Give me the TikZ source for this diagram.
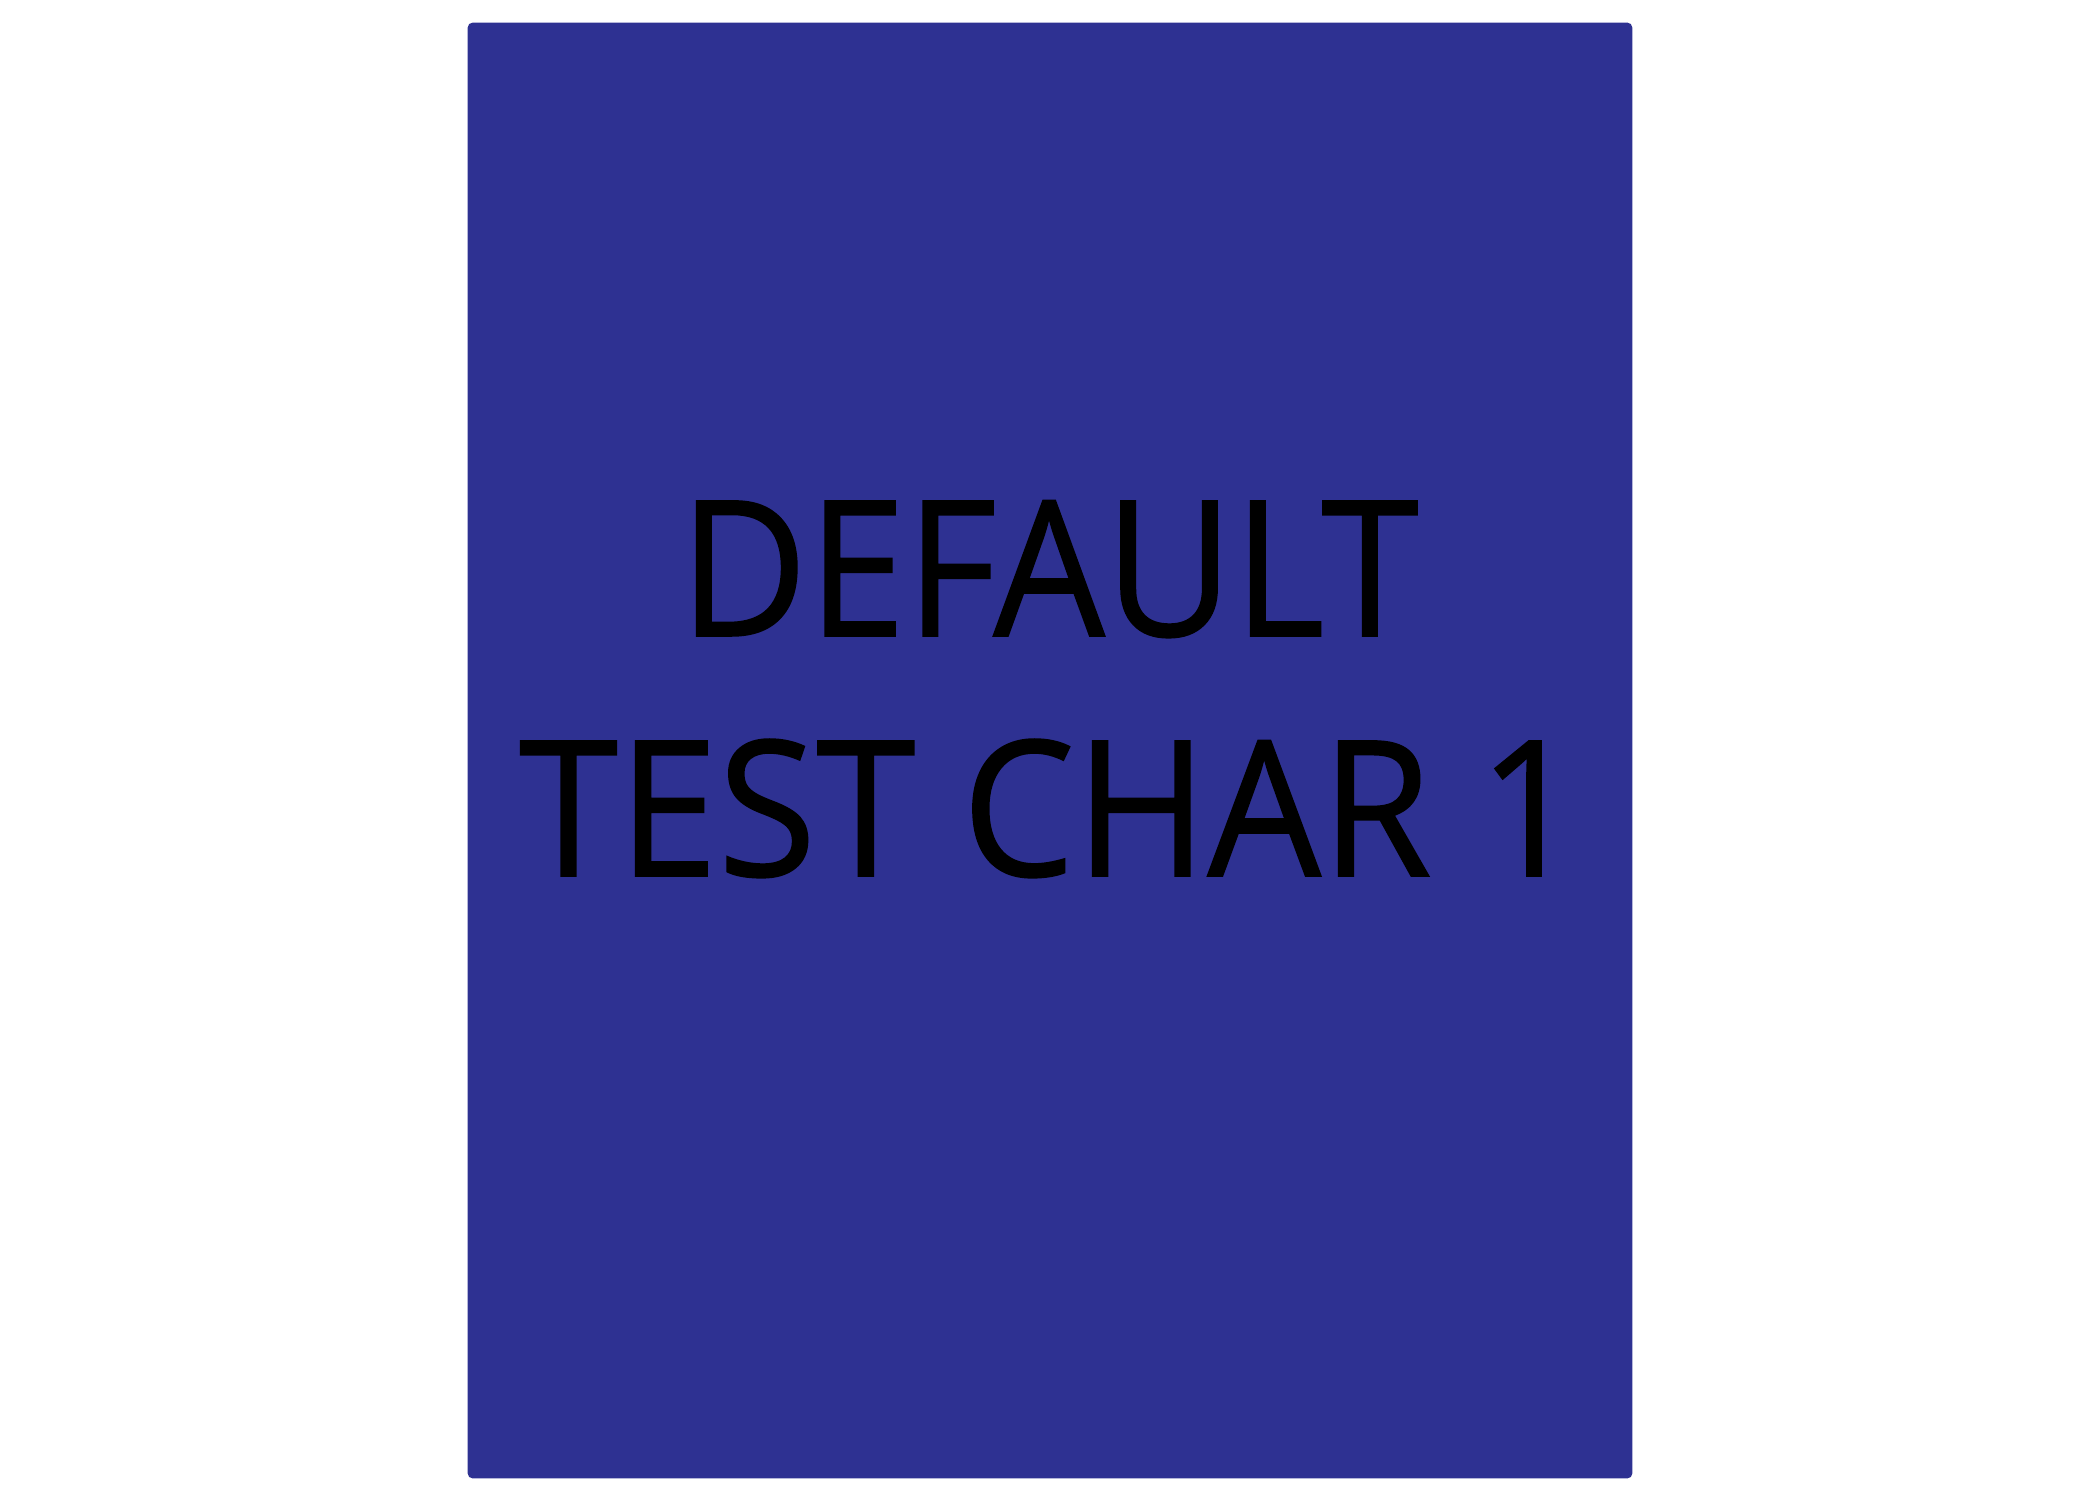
\documentclass[tikz,border=0pt]{standalone}
\usepackage{graphicx}
\usepackage{fontspec}
\setmainfont{Open Sans}[FakeBold=0.8]
\definecolor{panelblue}{HTML}{2E3192}
\tikzset{
  panel/.style={fill=panelblue, draw=none, rounded corners=0.05cm, inner sep=0pt},
  bigtext/.style={text=black, inner sep=0pt, font=\fontsize{53.8pt}{60pt}\selectfont},
}
\begin{document}
\begin{tikzpicture}[x=0.01cm,y=-0.01cm]
\useasboundingbox (0,0) rectangle (2100,1500);
\node[panel, minimum width=11.64cm, minimum height=14.55cm] (panel) at (1050,750.5) {};
\node[bigtext, anchor=base] (line1) at (1049,636) {\scalebox{0.932}[1]{DEFAULT}};
\node[bigtext, anchor=base] (line2) at (1050,876) {\scalebox{0.948}[1]{TEST CHAR 1}};
\end{tikzpicture}
\end{document}
